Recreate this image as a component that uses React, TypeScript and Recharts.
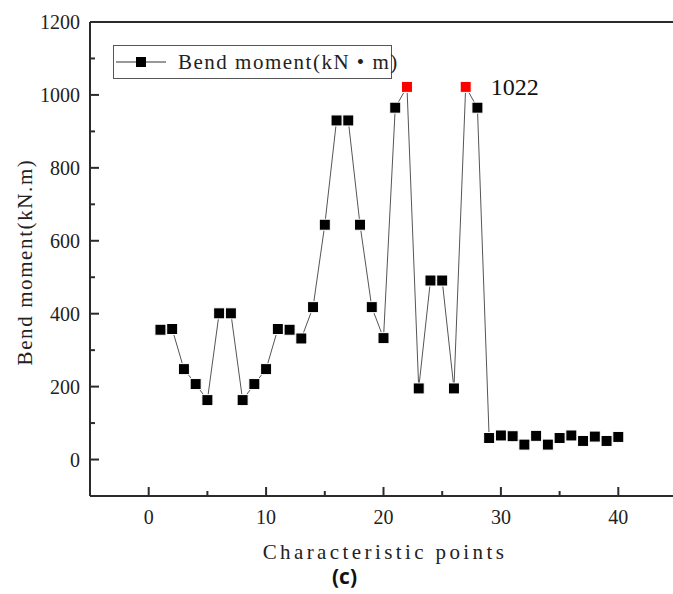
import { Line, LineChart, LabelList, ReferenceLine, XAxis, YAxis } from "recharts";

const points = [
  1, 2, 3, 4, 5, 6, 7, 8, 9, 10, 11, 12, 13, 14, 15, 16, 17, 18, 19, 20,
  21, 22, 23, 24, 25, 26, 27, 28, 29, 30, 31, 32, 33, 34, 35, 36, 37, 38, 39, 40,
];
const moments = [
  356, 358, 248, 207, 163, 401, 401, 163, 207, 248, 358, 356, 332, 418, 644, 930, 930, 644, 418, 333,
  965, 1022, 195, 491, 491, 195, 1022, 965, 59, 66, 64, 41, 65, 41, 59, 66, 51, 63, 51, 62,
];
const peakPoints = [22, 27];
const xTicks = [0, 5, 10, 15, 20, 25, 30, 35, 40];
const yTicks = [0, 100, 200, 300, 400, 500, 600, 700, 800, 900, 1000, 1100, 1200];

const data = points.map((x, i) => ({ x, y: moments[i] }));
const maxVal = Math.max(...moments);
const labelIdx = moments.lastIndexOf(maxVal);

const AXIS = "#2b2b2b";
const SERIF = "'Liberation Serif', 'Times New Roman', serif";

function XTick({ x, y, payload }: any) {
  const v = payload.value;
  const major = v % 10 === 0;
  return (
    <g>
      <line x1={x} x2={x} y1={y} y2={y - (major ? 9 : 5)} stroke={AXIS} strokeWidth={2} />
      {major && (
        <text x={x} y={y + 28} textAnchor="middle" fontFamily={SERIF} fontSize={20} fill="#222">
          {v}
        </text>
      )}
    </g>
  );
}

function YTick({ x, y, payload }: any) {
  const v = payload.value;
  const major = v % 200 === 0;
  return (
    <g>
      <line x1={x} x2={x + (major ? 9 : 5)} y1={y} y2={y} stroke={AXIS} strokeWidth={2} />
      {major && (
        <text x={x - 10} y={y + 7} textAnchor="end" fontFamily={SERIF} fontSize={20} fill="#222">
          {v}
        </text>
      )}
    </g>
  );
}

function SquareDot({ cx, cy, payload, index }: any) {
  if (cx == null || cy == null) return null;
  const red = peakPoints.includes(payload.x);
  return (
    <rect
      key={index}
      x={cx - 5.5}
      y={cy - 5.5}
      width={11}
      height={11}
      fill={red ? "#ff0000" : "#000"}
      stroke="#fff"
      strokeWidth={1}
    />
  );
}

function PeakLabel({ x, y, value, index }: any) {
  if (index !== labelIdx) return null;
  return (
    <text x={x + 25} y={y + 8} fontFamily={SERIF} fontSize={24} fill="#111">
      {value}
    </text>
  );
}

export default function App() {
  return (
    <div
      style={{
        position: "fixed",
        left: 0,
        top: 0,
        width: 673,
        height: 594,
        overflow: "hidden",
        background: "#fff",
      }}
    >
      <LineChart width={690} height={594} data={data} margin={{ top: 22, right: 13, left: 0, bottom: 0 }}>
        <XAxis
          type="number"
          dataKey="x"
          domain={[-5, 45]}
          ticks={xTicks}
          interval={0}
          tick={<XTick />}
          tickLine={false}
          tickSize={0}
          tickMargin={0}
          height={98}
          axisLine={{ stroke: AXIS, strokeWidth: 2 }}
          allowDataOverflow
        />
        <YAxis
          type="number"
          domain={[-100, 1200]}
          ticks={yTicks}
          interval={0}
          tick={<YTick />}
          tickLine={false}
          tickSize={0}
          tickMargin={0}
          width={90}
          axisLine={{ stroke: AXIS, strokeWidth: 2 }}
          allowDataOverflow
        />
        <ReferenceLine y={1200} stroke={AXIS} strokeWidth={2} />
        <ReferenceLine x={45} stroke={AXIS} strokeWidth={2} />
        <Line
          type="linear"
          dataKey="y"
          stroke="#555"
          strokeWidth={1}
          dot={<SquareDot />}
          activeDot={false}
          isAnimationActive={false}
        >
          <LabelList dataKey="y" content={<PeakLabel />} />
        </Line>
        <text
          x={385}
          y={559}
          textAnchor="middle"
          fontFamily={SERIF}
          fontSize={21}
          letterSpacing={3.4}
          fill="#222"
        >
          Characteristic points
        </text>
        <text
          x={32}
          y={262}
          textAnchor="middle"
          transform="rotate(-90 32 262)"
          fontFamily={SERIF}
          fontSize={21}
          letterSpacing={1.6}
          fill="#222"
        >
          Bend moment(kN.m)
        </text>
      </LineChart>

      <div
        style={{
          position: "absolute",
          left: 113,
          top: 45,
          width: 277,
          height: 32,
          border: "1px solid #555",
          display: "flex",
          alignItems: "center",
          background: "#fff",
        }}
      >
        <svg width={60} height={32} style={{ flex: "none" }}>
          <line x1={2} x2={52} y1={16} y2={16} stroke="#333" strokeWidth={1} />
          <rect x={22} y={11} width={10} height={10} fill="#000" />
        </svg>
        <span
          style={{
            fontFamily: SERIF,
            fontSize: 21,
            letterSpacing: 1.5,
            color: "#222",
            whiteSpace: "nowrap",
            marginLeft: 4,
            lineHeight: 1,
          }}
        >
          Bend moment(kN • m)
        </span>
      </div>

      <div
        style={{
          position: "absolute",
          left: 332,
          top: 566,
          fontFamily: "'Open Sans', sans-serif",
          fontWeight: 700,
          fontSize: 21,
          lineHeight: 1,
          color: "#111",
        }}
      >
        (c)
      </div>
    </div>
  );
}
